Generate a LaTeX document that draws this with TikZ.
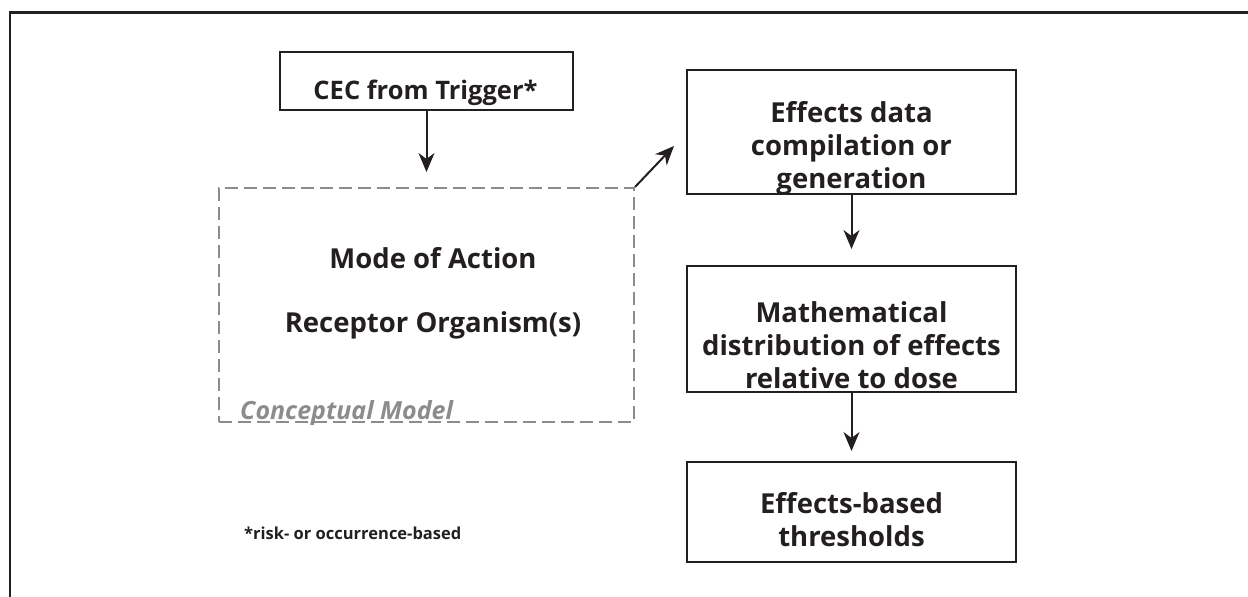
\documentclass[tikz,border=0pt]{standalone}
\usepackage{fontspec}
\setmainfont{Open Sans}
\usetikzlibrary{arrows.meta}
\definecolor{ink}{HTML}{231F20}
\definecolor{dashgray}{HTML}{8C8C8E}
\tikzset{
  frameline/.style={draw=ink, line width=2.2pt},
  stepbox/.style={draw=ink, line width=2pt, rectangle, inner sep=0pt},
  boxtext/.style={text=ink, font=\bfseries\fontsize{27.5}{33}\selectfont, align=center, inner sep=0pt},
  bigtext/.style={text=ink, font=\bfseries\fontsize{27.5}{32}\selectfont, inner sep=0pt},
  modelbox/.style={draw=dashgray, line width=2pt, dash pattern=on 13pt off 6pt, rectangle, inner sep=0pt},
  flow/.style={draw=ink, line width=2pt, -{Stealth[length=19pt, width=16pt, inset=6pt]}},
}
\begin{document}
\begin{tikzpicture}[x=1pt, y=-1pt]
\useasboundingbox (0,0) rectangle (1248,597);

% outer frame: top and left edges only
\draw[frameline] (1248,12.5) -- (10,12.5) -- (10,597);

% trigger box
\node[stepbox, minimum width=293pt, minimum height=58pt] (cec) at (426.5,81) {};
\node[bigtext, font=\bfseries\fontsize{25.5}{30}\selectfont] (cectext) at (425.5,93) {CEC from Trigger*};

% conceptual model (dashed)
\node[modelbox, minimum width=415pt, minimum height=234pt] (cm) at (426.5,305) {};
\node[bigtext] (moa) at (433,258) {Mode of Action};
\node[bigtext] (rec) at (433,325) {Receptor Organism(s)};
\node[text=dashgray, font=\bfseries\itshape\fontsize{25}{28}\selectfont, inner sep=0pt, anchor=base west] (cmlabel) at (240,419) {Conceptual Model};

% effects chain
\node[stepbox, minimum width=329pt, minimum height=124pt] (eff) at (851.5,132) {};
\node[boxtext] (efftext) at (851.5,148) {Effects data\\compilation or\\generation};

\node[stepbox, minimum width=329pt, minimum height=126pt] (math) at (851.5,329) {};
\node[boxtext] (mathtext) at (851.5,345) {Mathematical\\distribution of effects\\relative to dose};

\node[stepbox, minimum width=329pt, minimum height=100pt] (thr) at (851.5,512) {};
\node[boxtext] (thrtext) at (851.5,519.5) {Effects-based\\thresholds};

% footnote
\node[text=ink, font=\bfseries\fontsize{16.5}{19}\selectfont, inner sep=0pt, anchor=west] (note) at (244,533) {*risk- or occurrence-based};

% connectors
\coordinate (diagtip) at (674,146);
\draw[flow, shorten >=15pt] (cec.south) -- (cm.north);
\draw[flow] (cm.north east) -- (diagtip);
\draw[flow, shorten >=16pt] (eff.south) -- (math.north);
\draw[flow, shorten >=10pt] (math.south) -- (thr.north);
\end{tikzpicture}
\end{document}
